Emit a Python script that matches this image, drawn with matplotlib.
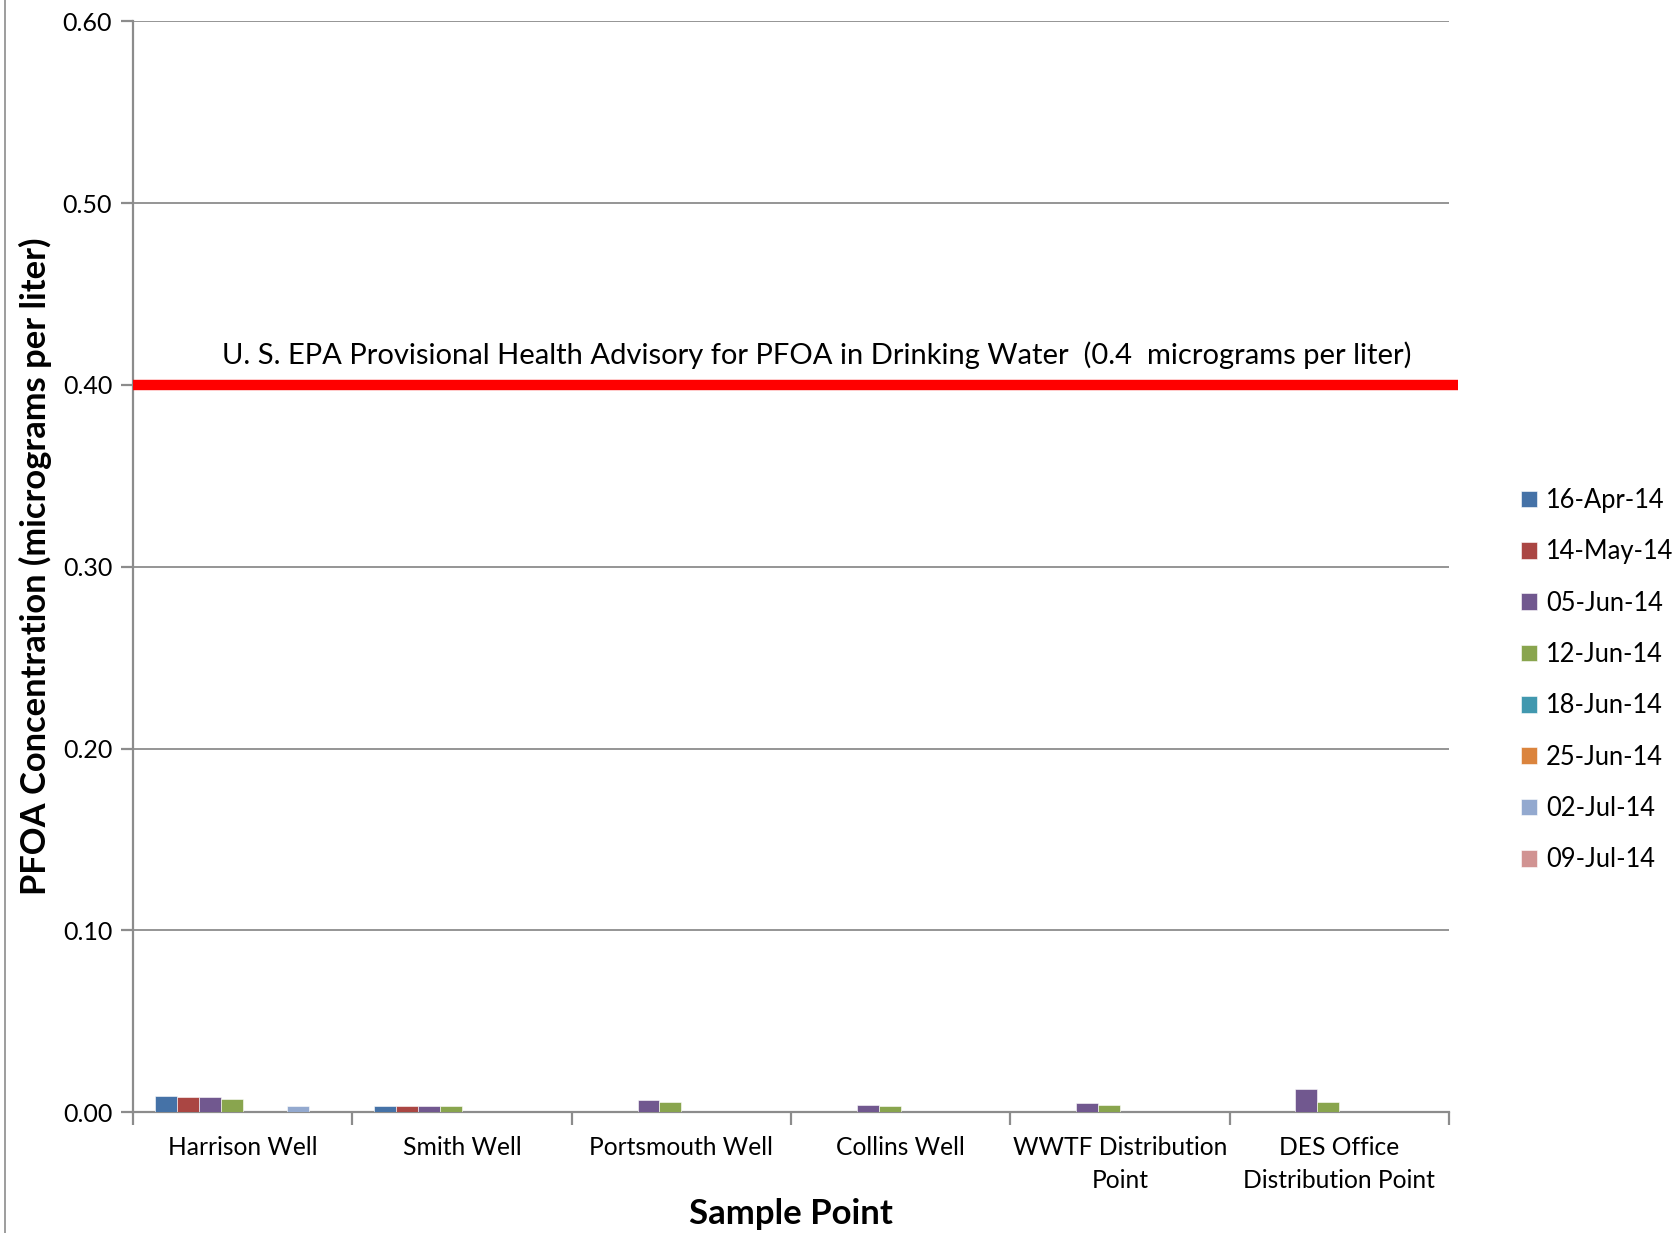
""" PFOA concentration by sample point, with EPA provisional advisory line """

import matplotlib.pyplot as plt
import matplotlib.transforms as mtransforms
import numpy as np
from matplotlib.lines import Line2D

sample_points = ["Harrison Well", "Smith Well", "Portsmouth Well", "Collins Well",
                 "WWTF Distribution\nPoint", "DES Office\nDistribution Point"]
dates = ["16-Apr-14", "14-May-14", "05-Jun-14", "12-Jun-14",
         "18-Jun-14", "25-Jun-14", "02-Jul-14", "09-Jul-14"]
colors = ["#4572A7", "#AA4643", "#71588F", "#89A54E",
          "#4198AF", "#DB843D", "#93A9CF", "#D19392"]

# one list per sampling date, values in micrograms per liter (0 = no sample)
apr16 = [0.0088, 0.0035, 0, 0, 0, 0]
may14 = [0.0082, 0.0035, 0, 0, 0, 0]
jun05 = [0.0082, 0.0035, 0.0064, 0.0037, 0.0048, 0.0127]
jun12 = [0.0070, 0.0035, 0.0055, 0.0033, 0.0040, 0.0053]
jun18 = [0, 0, 0, 0, 0, 0]
jun25 = [0, 0, 0, 0, 0, 0]
jul02 = [0.0035, 0, 0, 0, 0, 0]
jul09 = [0, 0, 0, 0, 0, 0]
series = [apr16, may14, jun05, jun12, jun18, jun25, jul02, jul09]

advisory = 0.4
advisory_text = ("U. S. EPA Provisional Health Advisory for PFOA in Drinking Water  "
                 "(0.4  micrograms per liter)")

plt.rcParams['font.family'] = ['Lato', 'DejaVu Sans']

fig = plt.figure(figsize=(16.8, 12.33), dpi=100)
ax = fig.add_axes([0.0792, 0.0981, 0.7833, 0.8845])

x = np.arange(len(sample_points))
width = 0.1
for i, (vals, c, d) in enumerate(zip(series, colors, dates)):
    ax.bar(x + (i - 3.5) * width, vals, width, color=c, label=d,
           edgecolor="white", linewidth=0.4, zorder=3)

ax.set_xlim(-0.5, len(sample_points) - 0.5)
ax.set_ylim(0, 0.6)
yt = np.arange(0, 0.61, 0.1)
ax.set_yticks(yt)
ax.set_yticklabels([f"{v:.2f}" for v in yt], fontsize=18)
ax.yaxis.grid(True, color="#8C8C8C", linewidth=1.3, zorder=0)

# category labels between boundary ticks
ax.set_xticks(np.arange(-0.5, len(sample_points)), minor=False)
ax.set_xticklabels([])
ax.set_xticks(x, minor=True)
ax.set_xticklabels(sample_points, minor=True, fontsize=17.7, linespacing=1.57)
ax.tick_params(axis="x", which="minor", length=0, pad=17)
ax.tick_params(axis="x", which="major", length=9, width=1.6, color="#8C8C8C")
ax.tick_params(axis="y", length=9, width=1.6, color="#8C8C8C", pad=6)

for side in ["top", "right"]:
    ax.spines[side].set_visible(False)
for side in ["left", "bottom"]:
    ax.spines[side].set_color("#8C8C8C")
    ax.spines[side].set_linewidth(1.6)

# advisory line runs a little past the plot area
ax.plot([-0.5, len(sample_points) - 0.5 + 0.04], [advisory, advisory],
        color="#FF0000", linewidth=7.5, clip_on=False, zorder=4, solid_capstyle="butt")
trans = mtransforms.blended_transform_factory(ax.transAxes, ax.transData)
ax.text(0.0676, advisory + 0.009, advisory_text, fontsize=21, va="bottom",
        ha="left", transform=trans)

ax.set_ylabel("PFOA Concentration (micrograms per liter)", fontsize=24.8,
              fontweight="bold", labelpad=8)
ax.set_xlabel("Sample Point", fontsize=25, fontweight="bold", labelpad=4)

ax.legend(loc="center left", bbox_to_anchor=(1.0547, 0.396), frameon=False,
          fontsize=18.4, handlelength=0.63, handleheight=0.63, handletextpad=0.35,
          labelspacing=1.03, borderaxespad=0, borderpad=0)

# thin chart border on the left
fig.add_artist(Line2D([0.0027, 0.0027], [0, 1], color="#8C8C8C", linewidth=1.2))

fig.savefig("out.png", dpi=100)
